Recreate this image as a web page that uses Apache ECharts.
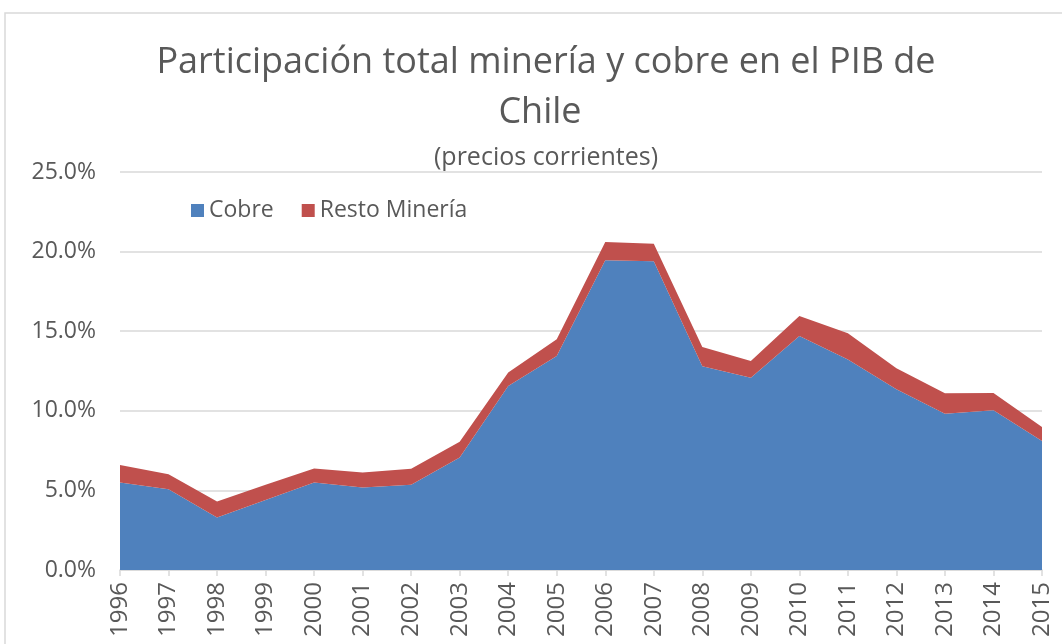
<!DOCTYPE html>
<html>
<head>
<meta charset="utf-8">
<script src="https://cdn.jsdelivr.net/npm/echarts@6/dist/echarts.min.js"></script>
<style>
  html, body { margin: 0; padding: 0; background: #fff; }
  #chart { width: 1062px; height: 644px; }
</style>
</head>
<body>
<div id="chart"></div>
<script>
const years = ['1996', '1997', '1998', '1999', '2000', '2001', '2002', '2003', '2004', '2005',
  '2006', '2007', '2008', '2009', '2010', '2011', '2012', '2013', '2014', '2015']
// participación en el PIB, % (precios corrientes)
const cobre = [5.5, 5.07, 3.3, 4.4, 5.49, 5.19, 5.36, 7.06, 11.56, 13.44,
  19.45, 19.39, 12.8, 12.08, 14.7, 13.23, 11.35, 9.82, 10.03, 8.1]
const restoMineria = [1.1, 0.95, 1.0, 0.95, 0.88, 0.94, 1.0, 1.0, 0.85, 1.05,
  1.15, 1.1, 1.2, 1.05, 1.25, 1.64, 1.32, 1.28, 1.09, 0.88]
const yTicks = [0, 5, 10, 15, 20, 25]

const font = 'Open Sans'
const grey = '#595959'
const chart = echarts.init(document.getElementById('chart'))

chart.setOption({
  animation: false,
  textStyle: { fontFamily: font },
  title: [
    { text: 'Participación total minería y cobre en el PIB de', left: 541, textAlign: 'center', top: 40,
      textStyle: { fontFamily: font, fontSize: 36, fontWeight: 'normal', color: grey } },
    { text: 'Chile', left: 535, textAlign: 'center', top: 90,
      textStyle: { fontFamily: font, fontSize: 36, fontWeight: 'normal', color: grey } },
    { text: '(precios corrientes)', left: 541, textAlign: 'center', top: 140,
      textStyle: { fontFamily: font, fontSize: 25, fontWeight: 'normal', color: grey } },
  ],
  graphic: [{
    type: 'rect', silent: true,
    shape: { x: 5, y: 13, width: 1200, height: 800 },
    style: { fill: 'none', stroke: '#d9d9d9', lineWidth: 1.5 },
  }],
  legend: {
    left: 186, top: 194, icon: 'rect', itemWidth: 13, itemHeight: 13, itemGap: 28,
    textStyle: { fontFamily: font, fontSize: 23, color: grey },
    data: ['Cobre', 'Resto Minería'],
  },
  grid: { left: 120, right: 20, top: 172, bottom: 74, containLabel: false },
  xAxis: {
    type: 'category', data: years, boundaryGap: false,
    axisLine: { lineStyle: { color: '#d9d9d9', width: 1.5 } },
    axisTick: { show: true, length: 6, lineStyle: { color: '#d9d9d9', width: 1.5 } },
    axisLabel: { rotate: 90, interval: 0, margin: 12, fontFamily: font, fontSize: 24, color: grey },
  },
  yAxis: {
    type: 'value', min: yTicks[0], max: yTicks[yTicks.length - 1], interval: 5,
    axisLine: { show: false }, axisTick: { show: false },
    axisLabel: { margin: 24, fontFamily: font, fontSize: 23, color: grey,
      formatter: (v) => v.toFixed(1) + '%' },
    splitLine: { lineStyle: { color: '#d9d9d9', width: 1.5 } },
  },
  series: [
    { name: 'Cobre', type: 'line', stack: 'total', data: cobre, symbol: 'none',
      lineStyle: { width: 0 }, areaStyle: { color: '#4f81bd', opacity: 1 }, itemStyle: { color: '#4f81bd' } },
    { name: 'Resto Minería', type: 'line', stack: 'total', data: restoMineria, symbol: 'none',
      lineStyle: { width: 0 }, areaStyle: { color: '#c0504d', opacity: 1 }, itemStyle: { color: '#c0504d' } },
  ],
})
</script>
</body>
</html>
